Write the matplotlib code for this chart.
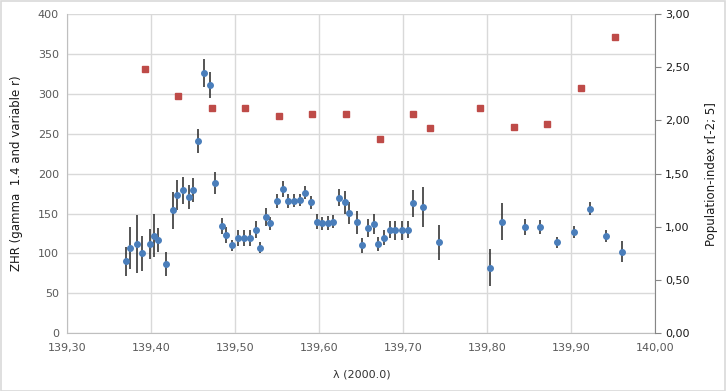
import numpy as np
import matplotlib.pyplot as plt
from matplotlib.ticker import FuncFormatter, MultipleLocator
from matplotlib.patches import Rectangle

# ZHR data (solar longitude, ZHR, error)
lam = [139.370, 139.375, 139.383, 139.389, 139.398, 139.4036, 139.4076, 139.418,
       139.4255, 139.430, 139.438, 139.4445, 139.450, 139.456, 139.463, 139.470,
       139.4762, 139.4838, 139.489, 139.4964, 139.5029, 139.510, 139.517, 139.5243,
       139.5298, 139.537, 139.5417, 139.550, 139.5564, 139.5627, 139.5695, 139.5767,
       139.5826, 139.5898, 139.5969, 139.6036, 139.6104, 139.6167, 139.6238, 139.630,
       139.6357, 139.6445, 139.6508, 139.6576, 139.6651, 139.6702, 139.6767, 139.6838,
       139.6905, 139.6981, 139.7052, 139.7112, 139.7235, 139.742, 139.8029, 139.8172,
       139.8445, 139.8631, 139.8826, 139.9036, 139.9226, 139.9413, 139.960]
zhr = [90, 107, 112, 100, 112, 122, 117, 87,
       154, 173, 179, 171, 179, 241, 326, 311,
       188, 134, 123, 110, 119, 119, 119, 130,
       107, 146, 138, 166, 181, 166, 166, 167,
       176, 164, 140, 138, 138, 140, 170, 164,
       151, 139, 110, 132, 137, 112, 120, 130,
       129, 129, 130, 163, 158, 114, 82, 140,
       133, 133, 114, 127, 156, 122, 102]
zhr_err = [18, 26, 36, 22, 19, 27, 15, 15,
           23, 19, 17, 15, 15, 15, 17, 16,
           14, 10, 10, 7, 10, 10, 10, 11,
           7, 11, 8, 9, 10, 9, 8, 8,
           8, 8, 9, 8, 9, 8, 11, 14,
           14, 14, 9, 11, 12, 9, 10, 11,
           12, 12, 11, 17, 25, 22, 23, 23,
           10, 9, 7, 8, 8, 8, 13]

# population index r
lam_r = [139.3929, 139.432, 139.4726, 139.512, 139.5524, 139.5917, 139.632,
         139.6726, 139.712, 139.732, 139.7917, 139.832, 139.8714, 139.9119, 139.952]
r_val = [2.48, 2.23, 2.12, 2.12, 2.04, 2.06, 2.06,
         1.83, 2.06, 1.93, 2.12, 1.94, 1.97, 2.30, 2.78]

fig = plt.figure(figsize=(7.26, 3.91), dpi=100)
fig.patches.append(Rectangle((0.001, 0.001), 0.997, 0.996, transform=fig.transFigure,
                             fill=False, edgecolor='#d9d9d9', linewidth=1.2))
ax = fig.add_axes([0.0927, 0.1476, 0.81, 0.8166])
ax2 = ax.twinx()

def comma(fmt):
    return FuncFormatter(lambda v, p: (fmt % v).replace('.', ','))

ax.errorbar(lam, zhr, yerr=zhr_err, fmt='o', color='#4a7ebb', ms=4,
            ecolor='#262626', elinewidth=1.1, capsize=0, zorder=3)
ax2.plot(lam_r, r_val, 's', color='#be4b48', ms=4, zorder=3)

ax.set_xlim(139.30, 140.00)
ax.set_ylim(0, 400)
ax2.set_ylim(0, 3)
ax.xaxis.set_major_locator(MultipleLocator(0.1))
ax.yaxis.set_major_locator(MultipleLocator(50))
ax2.yaxis.set_major_locator(MultipleLocator(0.5))
ax.xaxis.set_major_formatter(comma('%.2f'))
ax2.yaxis.set_major_formatter(comma('%.2f'))

ax.grid(True, color='#d9d9d9', linewidth=1)
ax.set_axisbelow(True)
for a in (ax, ax2):
    a.spines['top'].set_visible(False)
ax.spines['left'].set_color('#bfbfbf')
ax.spines['bottom'].set_color('#bfbfbf')
ax.spines['right'].set_visible(False)
ax2.spines['left'].set_visible(False)
ax2.spines['bottom'].set_visible(False)
ax2.spines['right'].set_color('#868686')

ax.tick_params(axis='both', length=0, labelsize=8, colors='#595959', pad=6)
ax.tick_params(axis='x', colors='#595959', pad=7)
ax2.tick_params(axis='y', length=4, color='#868686', labelsize=8, labelcolor='#1a1a1a', pad=3)

ax.set_xlabel('λ (2000.0)', fontsize=8, color='#333333', labelpad=12)
ax.set_ylabel('ZHR (gamma  1.4 and variable r)', fontsize=8.5, color='#1a1a1a', labelpad=11)
ax2.set_ylabel('Population-index r[-2; 5]', fontsize=8.5, color='#1a1a1a', labelpad=11)

fig.savefig('out.png', dpi=100)
